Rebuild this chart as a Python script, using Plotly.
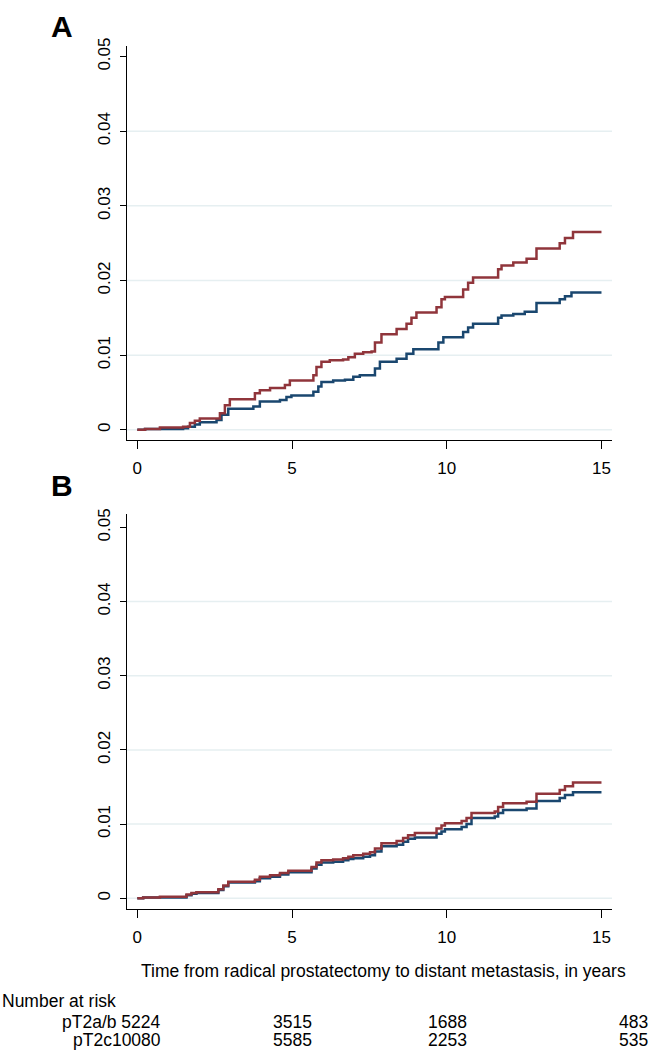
import plotly.graph_objects as go

# ---------------- data ----------------
# Panel A
a_red_t = [0, 0.25, 0.73, 1.48, 1.70, 1.86, 2.02, 2.67, 2.83, 2.99, 3.80, 3.96, 4.29, 4.77, 4.93,
           5.69, 5.79, 5.95, 6.22, 6.65, 6.82, 7.03, 7.30, 7.57, 7.68, 7.89, 8.38, 8.70, 8.86, 9.02,
           9.67, 9.83, 9.94, 10.53, 10.69, 10.85, 11.66, 11.77, 12.15, 12.58, 12.90, 13.65, 13.82, 14.08, 15]
a_red_v = [0, 0.0001, 0.0003, 0.0004, 0.0009, 0.0012, 0.0015, 0.0022, 0.0033, 0.0041, 0.0049, 0.0053,
           0.0056, 0.0060, 0.0066, 0.0073, 0.0084, 0.0091, 0.0093, 0.0094, 0.0097, 0.0102, 0.0104,
           0.0105, 0.0117, 0.0128, 0.0135, 0.0142, 0.0150, 0.0157, 0.0164, 0.0175, 0.0178, 0.0188,
           0.0197, 0.0204, 0.0215, 0.0220, 0.0224, 0.0229, 0.0243, 0.0250, 0.0257, 0.0265, 0.0265]

a_blue_t = [0, 0.25, 1.48, 1.64, 1.86, 2.02, 2.56, 2.72, 2.94, 3.75, 3.96, 4.61, 4.82, 4.98, 5.69,
            5.85, 5.95, 6.33, 6.71, 6.98, 7.19, 7.68, 7.84, 8.38, 8.70, 8.92, 9.73, 9.89, 10.53,
            10.69, 10.85, 11.66, 11.77, 12.15, 12.52, 12.90, 13.65, 13.82, 14.03, 15]
a_blue_v = [0, 0.0001, 0.0002, 0.0004, 0.0007, 0.0010, 0.0013, 0.0020, 0.0028, 0.0031, 0.0038,
            0.0040, 0.0044, 0.0046, 0.0051, 0.0058, 0.0064, 0.0066, 0.0067, 0.0071, 0.0073,
            0.0082, 0.0091, 0.0095, 0.0102, 0.0108, 0.0117, 0.0124, 0.0131, 0.0137, 0.0142,
            0.0150, 0.0153, 0.0155, 0.0158, 0.0170, 0.0175, 0.0179, 0.0184, 0.0184]

# Panel B
b_t = [0, 0.19, 0.73, 1.59, 1.75, 1.91, 2.62, 2.78, 2.94, 3.80, 3.96, 4.29, 4.61, 4.88, 5.63, 5.79,
       5.95, 6.33, 6.65, 6.82, 6.98, 7.30, 7.52, 7.68, 7.89, 8.38, 8.59, 8.75, 8.97, 9.67, 9.83,
       9.94, 10.48, 10.64, 10.80, 11.55, 11.66, 11.82, 12.58, 12.90, 13.65, 13.82, 14.08, 15]
b_red_v = [0, 0.0001, 0.0002, 0.0005, 0.0007, 0.0008, 0.0012, 0.0017, 0.0022, 0.0025, 0.0029,
           0.0031, 0.0034, 0.0037, 0.0042, 0.0048, 0.0051, 0.0052, 0.0054, 0.0056, 0.0058,
           0.0060, 0.0062, 0.0067, 0.0074, 0.0077, 0.0081, 0.0085, 0.0088, 0.0094, 0.0098,
           0.0101, 0.0104, 0.0108, 0.0115, 0.0117, 0.0123, 0.0128, 0.0130, 0.0141, 0.0146,
           0.0151, 0.0156, 0.0156]
b_blue_v = [0, 0.0001, 0.0001, 0.0004, 0.0006, 0.0007, 0.0011, 0.0016, 0.0021, 0.0023, 0.0027,
            0.0029, 0.0032, 0.0035, 0.0040, 0.0045, 0.0048, 0.0049, 0.0051, 0.0053, 0.0054,
            0.0056, 0.0058, 0.0063, 0.0070, 0.0072, 0.0076, 0.0080, 0.0082, 0.0087, 0.0090,
            0.0093, 0.0096, 0.0100, 0.0108, 0.0110, 0.0115, 0.0119, 0.0121, 0.0131, 0.0135,
            0.0139, 0.0143, 0.0143]

x_ticks = [0, 5, 10, 15]
y_ticks = [0, 0.01, 0.02, 0.03, 0.04, 0.05]
y_tick_text = ["0", "0.01", "0.02", "0.03", "0.04", "0.05"]
grid_vals = [0, 0.01, 0.02, 0.03, 0.04]

risk_groups = ["pT2a/b ", "pT2c"]
risk_counts = [[5224, 3515, 1688, 483], [10080, 5585, 2253, 535]]
risk_x_px = [163, 314, 469, 650]   # right edges of the count columns

x_title = "Time from radical prostatectomy to distant metastasis, in years"

RED = "#90353b"
BLUE = "#1a476f"
GRID = "#e6eff1"
FONT = "Arial, Liberation Sans, sans-serif"
W, H = 653, 1050

fig = go.Figure()
fig.add_trace(go.Scatter(x=a_blue_t, y=a_blue_v, mode="lines", line=dict(color=BLUE, width=2.5, shape="hv"),
                         xaxis="x", yaxis="y", showlegend=False))
fig.add_trace(go.Scatter(x=a_red_t, y=a_red_v, mode="lines", line=dict(color=RED, width=2.5, shape="hv"),
                         xaxis="x", yaxis="y", showlegend=False))
fig.add_trace(go.Scatter(x=b_t, y=b_blue_v, mode="lines", line=dict(color=BLUE, width=2.5, shape="hv"),
                         xaxis="x2", yaxis="y2", showlegend=False))
fig.add_trace(go.Scatter(x=b_t, y=b_red_v, mode="lines", line=dict(color=RED, width=2.5, shape="hv"),
                         xaxis="x2", yaxis="y2", showlegend=False))

xdom = [127 / W, 612 / W]
xrng = [-0.333, 15.34]
common_x = dict(range=xrng, domain=xdom, showline=True, linecolor="black", linewidth=1,
                ticks="outside", ticklen=8, tickcolor="black", tickwidth=1,
                tickvals=x_ticks, showgrid=False, zeroline=False,
                tickfont=dict(family=FONT, size=17, color="black"), ticklabelstandoff=5)
common_y = dict(showline=True, linecolor="black", linewidth=1, ticks="outside", ticklen=6,
                tickcolor="black", tickwidth=1, tickvals=y_ticks, ticktext=y_tick_text,
                tickangle=-90, showgrid=False, zeroline=False,
                tickfont=dict(family=FONT, size=17, color="black"), ticklabelstandoff=3)

fig.update_layout(
    width=W, height=H, margin=dict(l=0, r=0, t=0, b=0),
    paper_bgcolor="white", plot_bgcolor="white",
    xaxis=dict(anchor="y", **common_x),
    yaxis=dict(anchor="x", domain=[1 - 435 / H, 1 - 38 / H], range=[-0.00133, 0.05146], **common_y),
    xaxis2=dict(anchor="y2", **common_x),
    yaxis2=dict(anchor="x2", domain=[1 - 908 / H, 1 - 510 / H], range=[-0.00147, 0.0518], **common_y),
)

shapes = []
for ya, xa in (("y", "x"), ("y2", "x2")):
    for g in grid_vals:
        shapes.append(dict(type="line", xref=f"{xa} domain", x0=0, x1=1, yref=ya, y0=g, y1=g,
                           line=dict(color=GRID, width=1.5), layer="below"))
fig.update_layout(shapes=shapes)

ann = []
ann.append(dict(text="<b>A</b>", x=62 / W, y=1 - 19 / H, xref="paper", yref="paper", showarrow=False,
                font=dict(family=FONT, size=30, color="black"), xanchor="center", yanchor="middle"))
ann.append(dict(text="<b>B</b>", x=62 / W, y=1 - 481 / H, xref="paper", yref="paper", showarrow=False,
                font=dict(family=FONT, size=30, color="black"), xanchor="center", yanchor="middle"))
ann.append(dict(text=x_title, x=383 / W, y=1 - 970 / H, xref="paper", yref="paper", showarrow=False,
                font=dict(family=FONT, size=17.5, color="black"), xanchor="center", yanchor="middle"))
ann.append(dict(text="Number at risk", x=0, y=1 - 1001 / H, xref="paper", yref="paper", showarrow=False,
                font=dict(family=FONT, size=17.5, color="black"), xanchor="left", yanchor="middle"))
row_y = [1022, 1040]
for gi, grp in enumerate(risk_groups):
    for ci, cnt in enumerate(risk_counts[gi]):
        txt = (grp + str(cnt)) if ci == 0 else str(cnt)
        ann.append(dict(text=txt, x=risk_x_px[ci] / W, y=1 - row_y[gi] / H, xref="paper", yref="paper",
                        showarrow=False, font=dict(family=FONT, size=17.5, color="black"),
                        xanchor="right", yanchor="middle"))
fig.update_layout(annotations=ann)

fig.write_html("out.html", config={"displayModeBar": False},
               post_script="document.body.style.margin='0';document.body.style.overflow='hidden';")
